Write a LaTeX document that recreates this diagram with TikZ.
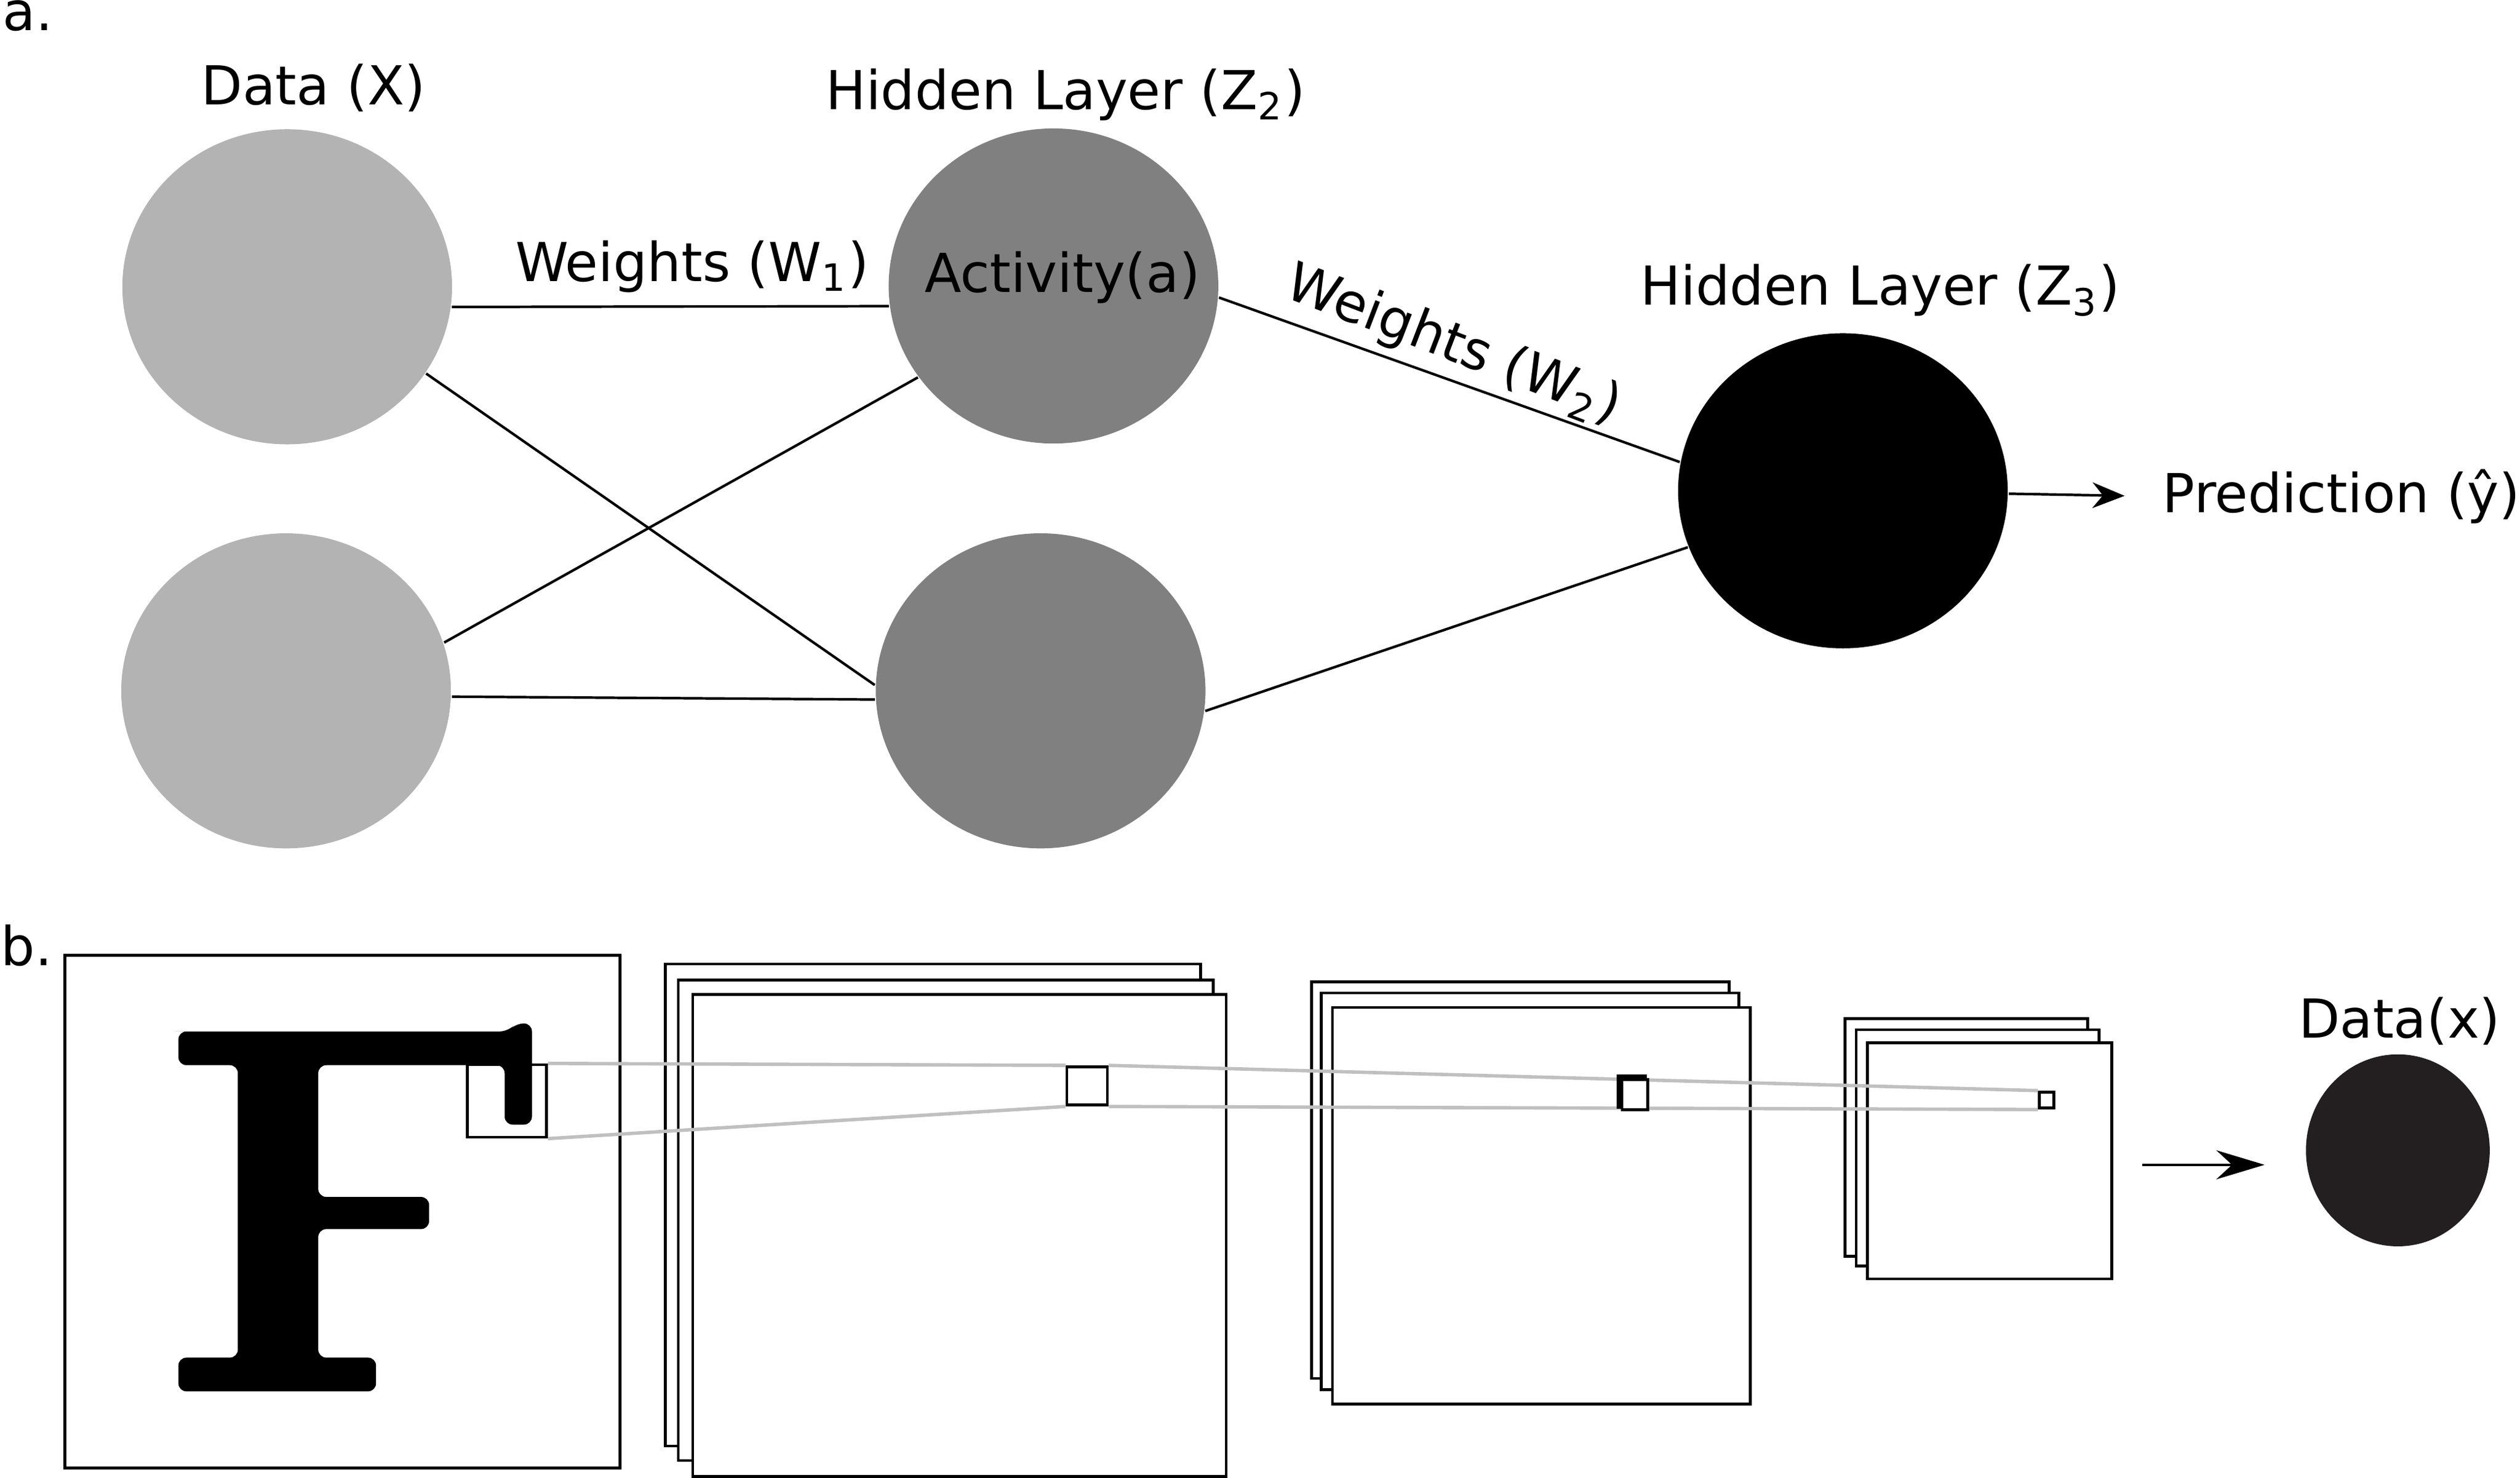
\documentclass[tikz,border=0pt]{standalone}
\usepackage{fontspec}
\setmainfont{DejaVu Sans}
\usetikzlibrary{shapes.geometric,arrows.meta}

\definecolor{inputgray}{HTML}{B3B3B3}
\definecolor{hiddengray}{HTML}{808080}
\definecolor{dataink}{HTML}{231F20}
\definecolor{tracegray}{HTML}{C0C0C0}

\tikzset{
  neuron/.style={ellipse, inner sep=0pt, minimum width=2.05cm, minimum height=1.96cm},
  lbl/.style={inner sep=0pt, anchor=base},
  link/.style={line width=0.45pt},
  fmap/.style={draw, fill=white, line width=0.5pt},
  patch/.style={draw, rectangle, inner sep=0pt, line width=0.5pt},
  trace/.style={draw=tracegray, line width=0.6pt},
}

\begin{document}
\begin{tikzpicture}[x=0.01cm, y=-0.01cm, font=\fontsize{9.5}{11}\selectfont]
        \useasboundingbox (0,0) rectangle (1568,919.6);
        %% a. fully connected network
        \node[lbl, anchor=base west] (pa) at (1,19) {a.};
        \node[neuron, fill=inputgray] (x1) at (178.7,178.5) {};
        \node[neuron, fill=inputgray] (x2) at (178,430) {};
        \node[neuron, fill=hiddengray] (h1) at (655.5,178) {};
        \node[neuron, fill=hiddengray] (h2) at (647.5,430) {};
        \node[neuron, fill=black] (z3) at (1146.7,305.5) {};
        \node[lbl] (xlbl) at (195,65) {Data (X)};
        \node[lbl] (h1lbl) at (663,68) {Hidden Layer (Z\textsubscript{2})};
        \node[lbl] (act) at (661,182) {Activity(a)};
        \node[lbl] (z3lbl) at (1170,190) {Hidden Layer (Z\textsubscript{3})};
        \node[lbl, anchor=base west] (w1) at (320,175) {Weights (W\textsubscript{1})};
        \node[lbl, rotate=-21] (w2) at (901,224) {Weights (W\textsubscript{2})};
        \node[lbl, anchor=base west] (pred) at (1345,319) {Prediction (ŷ)};
        \draw[link] (x1.-7) -- (h1.187);
        \draw[link] (x1.-32.5) -- (h2.178);
        \draw[link] (x2.17.7) -- (h1.214);
        \draw[link] (x2.-2.2) -- (h2.183);
        \draw[link] (h1.-4) -- (z3.170.7);
        \draw[link] (h2.-7.2) -- (z3.200.5);
        \draw[link,-{Stealth[length=2mm,width=1.6mm]},shorten >=0.23cm] (z3.-1.5) -- (pred.west);
        %% b. convolutional network
        \node[lbl, anchor=base west] (pb) at (0,601) {b.};
        \draw[fmap] (40.3,594.6) rectangle (385.8,913.8);
        \fill[rounded corners=0.05cm] (114,642) -- (316,642) -- (321,637) -- (331,637) -- (331,700)
            -- (314,700) -- (314,663) -- (198,663) -- (198,745) -- (267,745) -- (267,765)
            -- (198,765) -- (198,845) -- (234,845) -- (234,866) -- (111,866) -- (111,845)
            -- (148,845) -- (148,663) -- (111,663) -- (111,642) -- cycle;
        \node[patch, minimum width=0.493cm, minimum height=0.45cm] (fbox) at (315.4,685.3) {};
        %% first stack of maps
        \draw[fmap] (414,600) rectangle (747,900);
        \draw[fmap] (422,610) rectangle (755,909);
        \draw[fmap] (431,619) rectangle (763,919);
        %% second stack
        \draw[fmap] (816,611) rectangle (1076,858);
        \draw[fmap] (822,618) rectangle (1082,865);
        \draw[fmap] (829,627) rectangle (1089,874);
        %% third stack
        \draw[fmap] (1148,634) rectangle (1299,782);
        \draw[fmap] (1155,641) rectangle (1306,788);
        \draw[fmap] (1162,649) rectangle (1314,796);
        \node[patch, minimum width=0.252cm, minimum height=0.238cm] (k1) at (676.4,675.9) {};
        \node[patch, minimum width=0.09cm, minimum height=0.1cm] (k3) at (1273.4,684.7) {};
        \draw[trace] (fbox.north east) -- (k1.north west);
        \draw[trace] (fbox.south east) -- (k1.south west);
        \draw[trace] (k1.north east) -- (k3.north west);
        \draw[trace] (k1.south east) -- (k3.south west);
        \node[patch, fill=white, line width=0.8pt, minimum width=0.16cm, minimum height=0.186cm] (k2) at (1015.3,679.4) {};
        \node[patch, fill=white, minimum width=0.16cm, minimum height=0.186cm] (k2b) at (1017.3,681.3) {};
        %% output
        \node[neuron, fill=dataink, minimum width=1.143cm, minimum height=1.194cm] (dx) at (1492,716) {};
        \node[lbl] (dxlbl) at (1493,646) {Data(x)};
        \coordinate (s3) at (1333,725);
        \draw[link,-{Stealth[length=3mm,width=1.8mm]},shorten >=0.25cm] (s3) -- (s3 -| dx.west);
\end{tikzpicture}
\end{document}
